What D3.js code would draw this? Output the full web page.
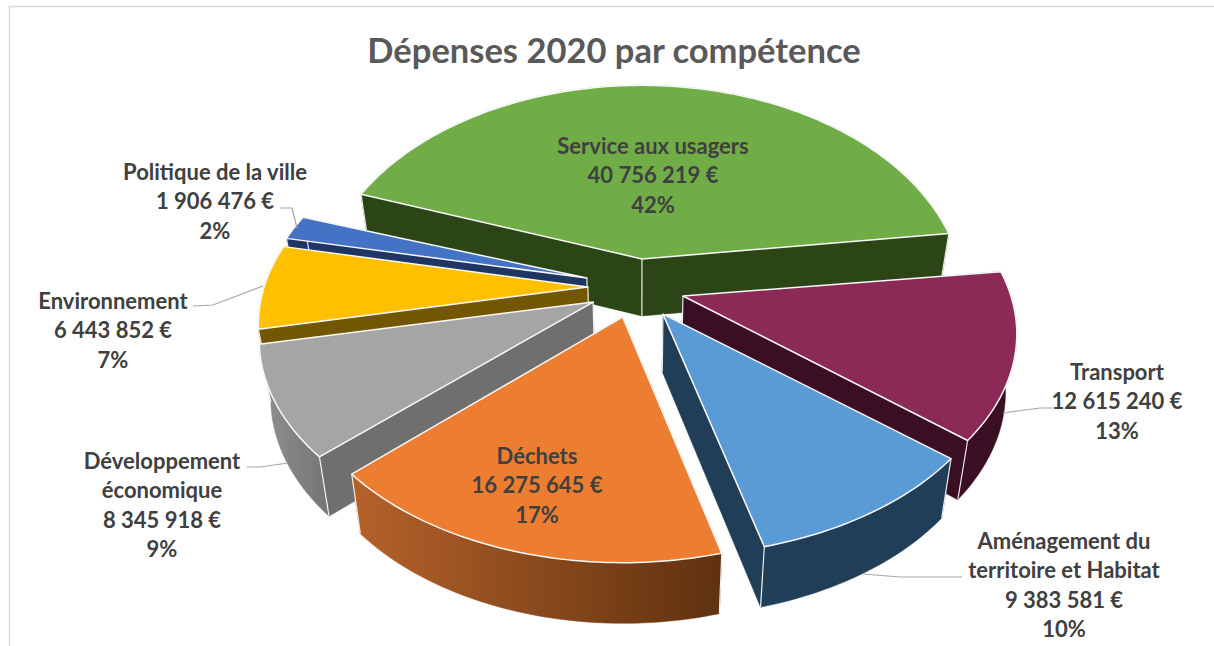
<!DOCTYPE html>
<html><head><meta charset="utf-8">
<script src="https://cdn.jsdelivr.net/npm/d3@7/dist/d3.min.js"></script>
<style>html,body{margin:0;padding:0;background:#fff}svg{display:block}text{font-family:Lato,"Open Sans",sans-serif}</style>
</head><body><svg id="c" width="1214" height="646"></svg>
<script>
// --- data
const categories = ["Service aux usagers","Transport","Aménagement du territoire et Habitat","Déchets","Développement économique","Environnement","Politique de la ville"];
const values = [40756219,12615240,9383581,16275645,8345918,6443852,1906476];
const percents = [42,13,10,17,9,7,2];
// --- label wrapping
const labelLines = [["Service aux usagers"],["Transport"],["Aménagement du","territoire et Habitat"],["Déchets"],["Développement","économique"],["Environnement"],["Politique de la ville"]];
// --- style / layout
const topColors = ["#70AD47","#8B2A57","#5B9BD5","#ED7D31","#A5A5A5","#FFC000","#4472C4"];
const wallColors = ["#2B4517","#3A0F24","#203E58","#6A3410","#6F6F6F","#735700","#1F3564"];
const rimFrom = ["#2B4517","#3A0F24","#203E58","#B5622A","#909090","#735700","#1F3564"];
const rimTo   = ["#2B4517","#3A0F24","#203E58","#5F310F","#757575","#735700","#1F3564"];
const explodeX = [0.006,0.131,0.070,-0.053,-0.143,-0.159,-0.162];
const explodeY = [-0.107,0.081,0.173,0.188,0.112,0.036,-0.010];
const scaleRimX = [0.965,1,1.012,0.99,1.0,0.987,0.975];
const scaleRimY = [1.045,1,1,1.015,1,1,0.98];
const paintOrder = [0,6,5,4,1,2,3];
const labelX = [653,1117,1064,537,162,113,215];
const labelY = [147,373,542,457,462,302,173];
const lineGap = 29.4;
const leaders = [null,[[1003,413],[1040,408],[1053,408]],[[863,574],[900,577],[962,577]],null,[[247,467],[260,467],[288,463]],[[193,306],[213,305],[263,286]],[[280,208],[292,208],[297,228]]];
const cx=640, cy=280, a=328, b=197, k=0.186, startDeg=-70.5;

const svg = d3.select("#c");
const defs = svg.append("defs");
const fmt = d3.formatLocale({decimal:",",thousands:" ",grouping:[3],currency:["","€"]}).format(",d");

svg.append("path").attr("d",d3.line()([[1214,6.5],[9.5,6.5],[9.5,646]])).attr("fill","none").attr("stroke","#d9d9d9").attr("stroke-width",1.5);

const t0 = startDeg*Math.PI/180;
const arcs = d3.pie().sort(null).startAngle(t0).endAngle(t0+2*Math.PI)(values);
const sx = d3.scaleLinear().domain([-1,1]).range([cx-a,cx+a]);
const sy = d3.scaleLinear().domain([-1,1]).range([cy-b,cy+b]);
const line = d3.line();

function drop(p){ // project a top-face point down to the base of the prism
  const h = 57 + 0.012*(p[1]-259);
  return [p[0]+(640-p[0])*0.03, p[1]+h];
}
arcs.forEach(d=>{
  const i=d.index;
  const apex=[sx(explodeX[i]),sy(explodeY[i])];
  const rimPt=phi=>{
    const u=Math.sin(phi), v=-Math.cos(phi), w=1-k*v;
    return [apex[0]+a*scaleRimX[i]*u/w, apex[1]+b*scaleRimY[i]*v/w];
  };
  const n=Math.max(4,Math.ceil((d.endAngle-d.startAngle)/0.02));
  const rim=d3.range(n+1).map(j=>rimPt(d.startAngle+(d.endAngle-d.startAngle)*j/n));
  const rs=rim[0], re=rim[n];
  const g=svg.append("g").attr("class","slice");
  g.datum({order:paintOrder.indexOf(i)});
  const grad=defs.append("linearGradient").attr("id","rim"+i);
  grad.append("stop").attr("offset","0").attr("stop-color",rimFrom[i]);
  grad.append("stop").attr("offset","1").attr("stop-color",rimTo[i]);
  const walls=[
    {pts:[apex,rs,drop(rs),drop(apex)],fill:wallColors[i]},
    {pts:[apex,re,drop(re),drop(apex)],fill:wallColors[i]},
    {pts:rim.concat(rim.slice().reverse().map(drop)),fill:`url(#rim${i})`}
  ];
  walls.forEach(w=>w.y=d3.mean(w.pts,p=>p[1]));
  walls.sort((p,q)=>p.y-q.y);
  walls.forEach(w=>g.append("path").attr("d",line(w.pts)+"Z").attr("fill",w.fill).attr("stroke",w.fill).attr("stroke-width",0.5));
  [apex,rs,re].forEach(p=>g.append("path").attr("d",line([p,drop(p)])).attr("stroke","#fff").attr("stroke-width",1.2).attr("fill","none").attr("opacity",0.9));
  g.append("path").attr("d",line([apex].concat(rim))+"Z").attr("fill",topColors[i]).attr("stroke","#f8f8f8").attr("stroke-width",1.5).attr("stroke-linejoin","round");
});
svg.selectAll("g.slice").sort((p,q)=>p.order-q.order);

leaders.forEach(l=>{ if(l) svg.append("path").attr("d",line(l)).attr("fill","none").attr("stroke","#a6a6a6").attr("stroke-width",1.2); });

svg.append("text").attr("x",614).attr("y",63).attr("text-anchor","middle").attr("font-size",34.5).attr("font-weight",700).attr("fill","#595959").text("Dépenses 2020 par compétence");

categories.forEach((c,i)=>{
  const lines=labelLines[i].concat([fmt(values[i])+" €",percents[i]+"%"]);
  lines.forEach((s,j)=>svg.append("text").attr("x",labelX[i]).attr("y",labelY[i]+7+j*lineGap).attr("text-anchor","middle")
    .attr("font-size",22).attr("font-weight",700).attr("fill","#404040").text(s));
});
</script></body></html>
